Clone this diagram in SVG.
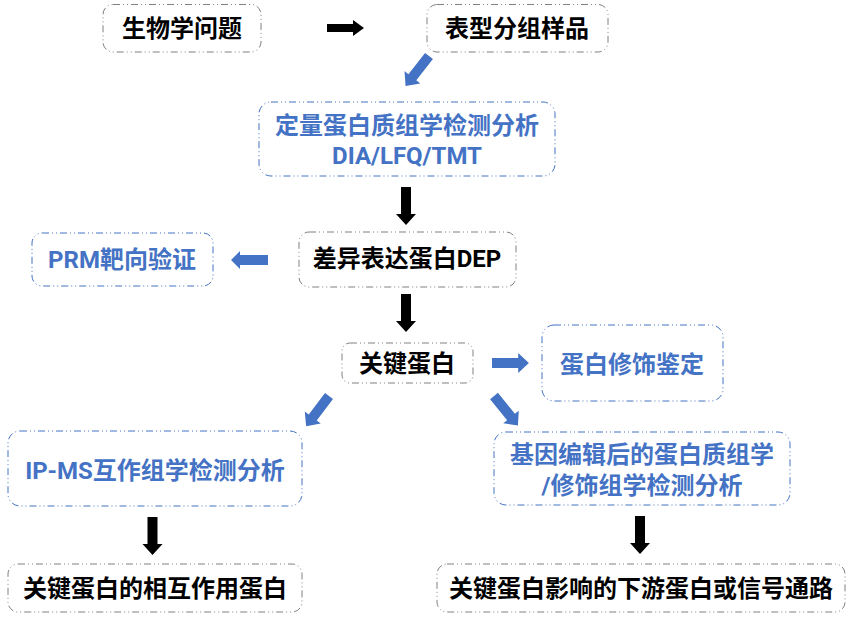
<svg xmlns="http://www.w3.org/2000/svg" width="852" height="619" viewBox="0 0 852 619">
<style>
.box{fill:#fff;stroke-width:1;stroke-dasharray:7 3 1 3 1 3}
.g{stroke:#808080}
.b{stroke:#4472C4}
.t{font-family:Roboto,"Noto Sans CJK SC","Microsoft YaHei",sans-serif;font-weight:bold;font-size:24px;text-anchor:middle}
.tk{fill:#000}
.tb{fill:#4472C4}
.ak{fill:#000}
.ab{fill:#4472C4}
</style>
<defs>
<polygon id="arr" points="0,-5 27,-5 27,-10 38,0 27,10 27,5 0,5"/>
</defs>
<rect width="852" height="619" fill="#fff"/>
<g id="connectors">
<polygon class="ak" points="327,24 353,24 353,20 364,28 353,36 353,32 327,32"/>
<use href="#arr" class="ab" transform="translate(429,56) rotate(128)"/>
<use href="#arr" class="ak" transform="translate(406,187) rotate(90)"/>
<polygon class="ab" points="268,255 240,255 240,251 231,260 240,269 240,265 268,265"/>
<use href="#arr" class="ak" transform="translate(406,294) rotate(90)"/>
<use href="#arr" class="ab" transform="translate(492,363) scale(0.97,1)"/>
<use href="#arr" class="ab" transform="translate(329,396) rotate(127)"/>
<use href="#arr" class="ab" transform="translate(494,396) rotate(51)"/>
<use href="#arr" class="ak" transform="translate(152.5,517) rotate(90)"/>
<use href="#arr" class="ak" transform="translate(640,516) rotate(90)"/>
</g>
<g id="n1">
<rect class="box g" x="103" y="4.5" width="158" height="47.5" rx="10"/>
<text class="t tk" x="182" y="36.5">生物学问题</text>
</g>
<g id="n2">
<rect class="box g" x="427" y="4.5" width="181" height="47.5" rx="10"/>
<text class="t tk" x="517" y="36.5">表型分组样品</text>
</g>
<g id="n3">
<rect class="box b" x="259" y="102" width="296" height="74" rx="12"/>
<text class="t tb" x="407" y="134">定量蛋白质组学检测分析</text>
<text class="t tb" x="407" y="164">DIA/LFQ/TMT</text>
</g>
<g id="n4">
<rect class="box g" x="299" y="232" width="217" height="55" rx="10"/>
<text class="t tk" x="407" y="267">差异表达蛋白DEP</text>
</g>
<g id="n5">
<rect class="box b" x="32" y="233" width="181" height="53" rx="10"/>
<text class="t tb" x="122" y="268">PRM靶向验证</text>
</g>
<g id="n6">
<rect class="box g" x="342" y="343" width="131" height="40" rx="8"/>
<text class="t tk" x="407" y="372">关键蛋白</text>
</g>
<g id="n7">
<rect class="box b" x="542" y="325" width="181" height="76" rx="12"/>
<text class="t tb" x="632" y="373">蛋白修饰鉴定</text>
</g>
<g id="n8">
<rect class="box b" x="8" y="431" width="294" height="75" rx="12"/>
<text class="t tb" x="155" y="479">IP-MS互作组学检测分析</text>
</g>
<g id="n9">
<rect class="box b" x="494" y="432" width="296" height="73" rx="12"/>
<text class="t tb" x="642" y="463">基因编辑后的蛋白质组学</text>
<text class="t tb" x="642" y="494">/修饰组学检测分析</text>
</g>
<g id="n10">
<rect class="box g" x="8" y="564" width="294" height="48" rx="10"/>
<text class="t tk" x="155" y="597">关键蛋白的相互作用蛋白</text>
</g>
<g id="n11">
<rect class="box g" x="437" y="564" width="408" height="48" rx="10"/>
<text class="t tk" x="641" y="597">关键蛋白影响的下游蛋白或信号通路</text>
</g>
</svg>
